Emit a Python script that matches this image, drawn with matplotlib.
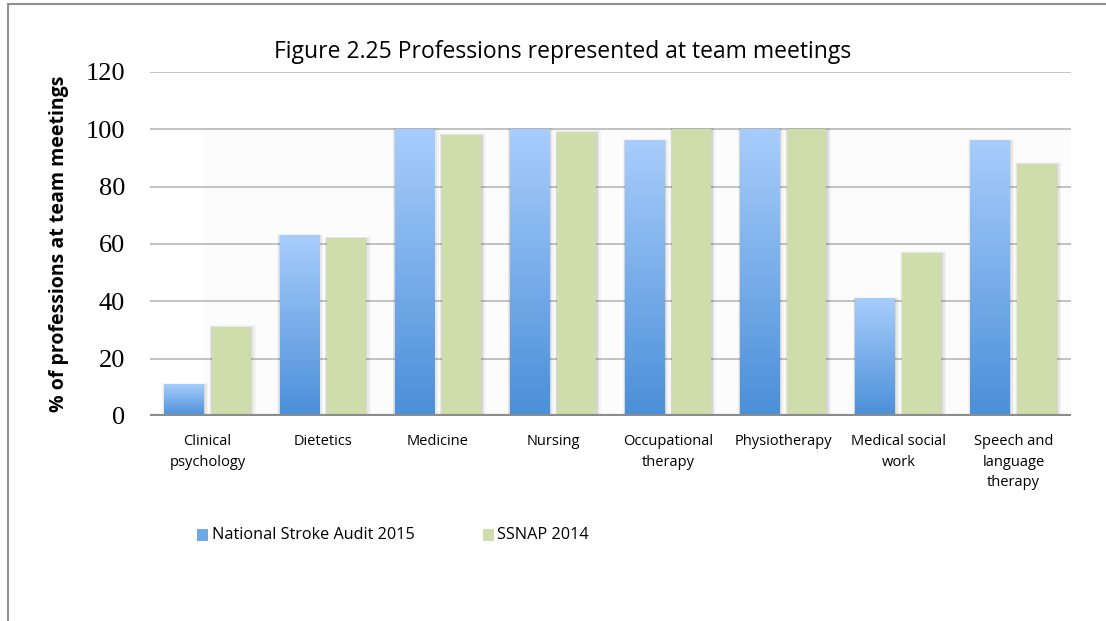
import numpy as np
import matplotlib
matplotlib.use("Agg")
import matplotlib.pyplot as plt
from matplotlib.colors import LinearSegmentedColormap
from matplotlib.patches import Rectangle
from matplotlib.lines import Line2D

categories = ["Clinical\npsychology", "Dietetics", "Medicine", "Nursing",
              "Occupational\ntherapy", "Physiotherapy", "Medical social\nwork",
              "Speech and\nlanguage\ntherapy"]
national_2015 = [11, 63, 100, 100, 96, 100, 41, 96]
ssnap_2014 = [31, 62, 98, 99, 100, 100, 57, 88]
series_names = ["National Stroke Audit 2015", "SSNAP 2014"]
yticks = [0, 20, 40, 60, 80, 100, 120]

W, H = 1106, 621
fig = plt.figure(figsize=(W / 100, H / 100), dpi=100)
sans = ["Open Sans", "DejaVu Sans"]

ax = fig.add_axes([150 / W, 1 - 416 / H, (1071 - 150) / W, (416 - 72) / H])
ax.set_xlim(-0.5, len(categories) - 0.5)
ax.set_ylim(0, 120)

# faint back wall
ax.add_patch(Rectangle((-0.5 + 0.46, 0), len(categories), 100, facecolor="#fcfcfc",
                       edgecolor="none", zorder=0))

for t in yticks[1:]:
    ax.axhline(t, color="#b8b8b8", lw=1.2, zorder=1)

blue_cmap = LinearSegmentedColormap.from_list("b", ["#4a8fd8", "#a8cdfc"])
grad = np.linspace(0, 1, 256).reshape(-1, 1)
bw = 0.34
off = 0.205
x = np.arange(len(categories))
for i, (v1, v2) in enumerate(zip(national_2015, ssnap_2014)):
    for xc, v in ((x[i] - off, v1), (x[i] + off, v2)):
        # soft shadow
        for k, a in enumerate([0.08, 0.05, 0.03]):
            ax.add_patch(Rectangle((xc - bw / 2 - 0.006 * (k + 1), 0),
                                   bw + 0.02 * (k + 1), v + 0.3 * k,
                                   facecolor="black", alpha=a, edgecolor="none", zorder=2))
    ax.imshow(grad, cmap=blue_cmap, aspect="auto", origin="lower",
              extent=(x[i] - off - bw / 2, x[i] - off + bw / 2, 0, v1), zorder=3)
    ax.add_patch(Rectangle((x[i] + off - bw / 2, 0), bw, v2, facecolor="#cfdcab",
                           edgecolor="none", zorder=3))

ax.set_xlim(-0.5, len(categories) - 0.5)
ax.set_ylim(0, 120)
ax.axhline(0, color="#8c8c8c", lw=3, zorder=4)
for s in ax.spines.values():
    s.set_visible(False)
ax.set_yticks(yticks)
ax.set_yticklabels([str(t) for t in yticks], family=["Liberation Serif", "DejaVu Serif"], fontsize=19)
ax.set_xticks(x)
ax.set_xticklabels(categories, family=sans, fontsize=10.5, linespacing=1.5, va="top")
ax.tick_params(axis="both", length=0)
ax.tick_params(axis="y", pad=18)
ax.tick_params(axis="x", pad=13)

ax.set_ylabel("% of professions at team meetings", family=sans, fontsize=14,
              fontweight="bold", labelpad=8)
ax.yaxis.set_label_coords(-0.088, 0.5)

fig.text(563 / W, 1 - 52 / H, "Figure 2.25 Professions represented at team meetings",
         ha="center", va="center", family=sans, fontsize=16.5)

# legend
lx1, lx2, ly = 197, 483, 535
fig.patches.append(Rectangle((lx1 / W, 1 - (ly + 6) / H), 11 / W, 12 / H,
                             transform=fig.transFigure, facecolor="#6fa7e8", edgecolor="none"))
fig.patches.append(Rectangle((lx2 / W, 1 - (ly + 6) / H), 11 / W, 12 / H,
                             transform=fig.transFigure, facecolor="#cfdcab", edgecolor="none"))
fig.text((lx1 + 15) / W, 1 - ly / H, series_names[0], va="center", ha="left",
         family=sans, fontsize=11.7)
fig.text((lx2 + 14) / W, 1 - ly / H, series_names[1], va="center", ha="left",
         family=sans, fontsize=11.7)

# outer border (top and left)
fig.add_artist(Line2D([8 / W, 1], [1 - 4 / H, 1 - 4 / H], transform=fig.transFigure,
                      color="#909090", lw=1.5))
fig.add_artist(Line2D([8 / W, 8 / W], [0, 1 - 4 / H], transform=fig.transFigure,
                      color="#909090", lw=1.5))

fig.savefig("out.png", dpi=100)
